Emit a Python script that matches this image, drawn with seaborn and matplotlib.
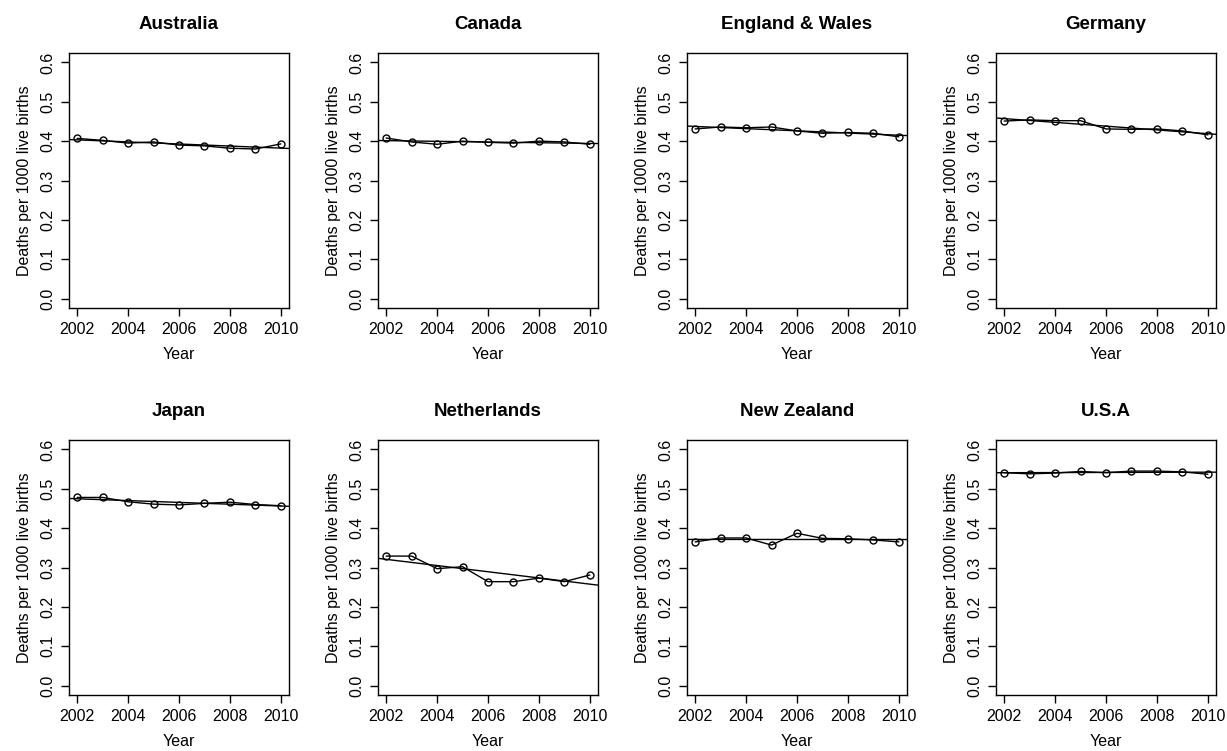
import numpy as np
import pandas as pd
import seaborn as sns
import matplotlib
matplotlib.use("Agg")
import matplotlib.pyplot as plt

# data
years = [2002, 2003, 2004, 2005, 2006, 2007, 2008, 2009, 2010]
countries = ["Australia", "Canada", "England & Wales", "Germany",
             "Japan", "Netherlands", "New Zealand", "U.S.A"]

australia = [0.407, 0.402, 0.395, 0.398, 0.390, 0.388, 0.382, 0.380, 0.393]
canada = [0.408, 0.398, 0.392, 0.400, 0.397, 0.395, 0.400, 0.398, 0.392]
england_wales = [0.431, 0.436, 0.434, 0.436, 0.426, 0.420, 0.422, 0.420, 0.411]
germany = [0.451, 0.454, 0.452, 0.452, 0.431, 0.430, 0.431, 0.426, 0.416]
japan = [0.478, 0.478, 0.467, 0.461, 0.459, 0.463, 0.466, 0.460, 0.457]
netherlands = [0.329, 0.329, 0.297, 0.302, 0.264, 0.264, 0.273, 0.264, 0.281]
new_zealand = [0.365, 0.375, 0.375, 0.357, 0.387, 0.374, 0.373, 0.370, 0.365]
usa = [0.541, 0.538, 0.540, 0.544, 0.541, 0.545, 0.545, 0.543, 0.537]

series = [australia, canada, england_wales, germany,
          japan, netherlands, new_zealand, usa]

y_ticks = [0.0, 0.1, 0.2, 0.3, 0.4, 0.5, 0.6]
x_ticks = [2002, 2004, 2006, 2008, 2010]

sns.set_style("ticks")
plt.rcParams['font.family'] = ['Liberation Sans', 'DejaVu Sans']
plt.rcParams['text.color'] = 'black'
plt.rcParams['axes.labelcolor'] = 'black'

W, H = 1227, 751
fig = plt.figure(figsize=(W / 100, H / 100), dpi=100)

col_left = [69, 378, 687, 996]
row_bottom = [308, 695]   # pixel y of box bottom
box_w, box_h = 220, 255

for i, (name, vals) in enumerate(zip(countries, series)):
    r, c = divmod(i, 4)
    ax = fig.add_axes([col_left[c] / W, 1 - row_bottom[r] / H, box_w / W, box_h / H])
    df = pd.DataFrame({"Year": years, "rate": vals})

    # R-style 4% padding
    ax.set_xlim(2002 - 0.32, 2010 + 0.32)
    ax.set_ylim(-0.024, 0.624)

    sns.regplot(data=df, x="Year", y="rate", ax=ax, scatter=False, ci=None,
                truncate=False, color="black", line_kws={"lw": 1.0})
    sns.lineplot(data=df, x="Year", y="rate", ax=ax, color="black", lw=1.0,
                 marker="o", markersize=5, markerfacecolor="none",
                 markeredgecolor="black", markeredgewidth=1.0)

    ax.set_xlim(2002 - 0.32, 2010 + 0.32)
    ax.set_ylim(-0.024, 0.624)
    ax.set_xticks(x_ticks)
    ax.set_yticks(y_ticks)
    ax.set_yticklabels([f"{t:.1f}" for t in y_ticks], rotation=90, va="center")
    ax.tick_params(direction="out", length=6, width=1.0, labelsize=11.5,
                   color="black", labelcolor="black", pad=4)
    for s in ax.spines.values():
        s.set_visible(True)
        s.set_linewidth(1.0)
        s.set_color("black")

    ax.set_title(name, fontsize=13.5, fontweight="bold", pad=17, color="black")
    ax.set_xlabel("Year", fontsize=11.5, labelpad=7)
    ax.set_ylabel("Deaths per 1000 live births", fontsize=11.5, labelpad=6)

fig.savefig("out.png", dpi=100)
